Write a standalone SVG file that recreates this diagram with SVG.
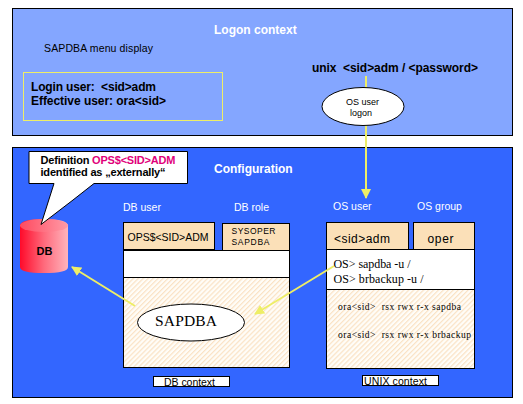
<svg xmlns="http://www.w3.org/2000/svg" width="523" height="404" viewBox="0 0 523 404">
<style>
text{font-family:"Liberation Sans",Arial,sans-serif;fill:#000}
.b{font-weight:bold}
.w{fill:#fff}
.s{font-family:"Liberation Serif","Times New Roman",serif}
.box{stroke:#000;stroke-width:1}
.cell{fill:#fbe0b8;stroke:#000;stroke-width:1}
.conn{stroke:#eeee66;stroke-width:2;fill:none}
</style>
<defs>
<pattern id="hatch" width="3.500" height="3.500" patternUnits="userSpaceOnUse" patternTransform="rotate(-45)">
<rect width="3.500" height="3.500" fill="#fffdf8"/><rect width="3.500" height="1.200" fill="#fae2c4"/>
</pattern>
<linearGradient id="cyl" x1="0" x2="1" y1="0" y2="0"><stop offset="0" stop-color="#ff0a2a"/><stop offset=".5" stop-color="#ff6a7c"/><stop offset="1" stop-color="#ffb4bc"/></linearGradient>
<linearGradient id="cyltop" x1="0" x2="1" y1="0" y2="0"><stop offset="0" stop-color="#ff4a60"/><stop offset="1" stop-color="#ff9aa6"/></linearGradient>
<marker id="arr" viewBox="0 0 10 10" refX="9" refY="5" markerWidth="10" markerHeight="10" markerUnits="userSpaceOnUse" orient="auto"><path d="M0 0L10 5L0 10z" fill="#eeee66"/></marker>
</defs>
<rect width="523" height="404" fill="#fff"/>
<g id="logon-context">
<rect class="box" x="12.500" y="8.500" width="500" height="127" fill="#84a6ff"/>
<text class="b w" x="214" y="34" font-size="12">Logon context</text>
<text x="44" y="52" font-size="10.500" textLength="109">SAPDBA menu display</text>
<rect x="23.500" y="72.500" width="199" height="48" fill="none" stroke="#eeee66"/>
<text class="b" x="31" y="91" font-size="12" textLength="125" xml:space="preserve">Login user:  &lt;sid&gt;adm</text>
<text class="b" x="31" y="105" font-size="12" textLength="135">Effective user: ora&lt;sid&gt;</text>
<text class="b" x="312" y="72" font-size="12" textLength="166" xml:space="preserve">unix  &lt;sid&gt;adm / &lt;password&gt;</text>
</g>
<g id="configuration">
<rect class="box" x="12.500" y="147.500" width="500" height="250" fill="#3366ff"/>
<text class="b w" x="214" y="173" font-size="12">Configuration</text>
<text class="w" x="123" y="211" font-size="10.500">DB user</text>
<text class="w" x="234" y="211" font-size="10.500">DB role</text>
<text class="w" x="333" y="210" font-size="10.500">OS user</text>
<text class="w" x="417" y="210" font-size="10.500">OS group</text>
</g>
<g id="db-user">
<rect class="box" x="123.500" y="250.500" width="166" height="117" fill="url(#hatch)"/>
<rect class="box" x="123.500" y="250.500" width="166" height="27" fill="#fff"/>
<rect class="cell" x="123.500" y="222.500" width="91" height="27"/>
<text x="127.500" y="241" font-size="10.500" textLength="81">OPS$&lt;SID&gt;ADM</text>
<rect class="cell" x="222.500" y="223.500" width="67" height="27"/>
<text x="231.500" y="234" font-size="8.500" textLength="44">SYSOPER</text>
<text x="231.500" y="245" font-size="8.500" textLength="38">SAPDBA</text>
</g>
<g id="os-user">
<rect class="box" x="326.500" y="249.500" width="148" height="119" fill="url(#hatch)"/>
<rect class="box" x="326.500" y="249.500" width="148" height="40" fill="#fff"/>
<rect class="cell" x="326.500" y="222.500" width="82" height="27"/>
<text x="334" y="243" font-size="12" textLength="56">&lt;sid&gt;adm</text>
<rect class="cell" x="413.500" y="222.500" width="61" height="27"/>
<text x="427.500" y="243" font-size="12" textLength="26">oper</text>
<text class="s" x="333.500" y="268" font-size="12" textLength="77">OS&gt; sapdba -u /</text>
<text class="s" x="333.500" y="283" font-size="12" textLength="90">OS&gt; brbackup -u /</text>
<text class="s" x="338" y="310" font-size="9.500" textLength="123" xml:space="preserve">ora&lt;sid&gt;  rsx rwx r-x sapdba</text>
<text class="s" x="338" y="338" font-size="9.500" textLength="133" xml:space="preserve">ora&lt;sid&gt;  rsx rwx r-x brbackup</text>
</g>
<g id="connectors">
<line class="conn" x1="366" y1="76" x2="366" y2="198" marker-end="url(#arr)"/>
<line class="conn" x1="135" y1="306" x2="72" y2="267" marker-end="url(#arr)"/>
<line class="conn" x1="334" y1="266" x2="255" y2="314" marker-end="url(#arr)"/>
</g>
<g id="sapdba">
<ellipse class="box" cx="191" cy="322.500" rx="53.500" ry="18.500" fill="#fff"/>
<text class="s" x="155" y="326" font-size="15.500" textLength="62">SAPDBA</text>
</g>
<g id="os-logon">
<ellipse class="box" cx="363" cy="106.500" rx="41" ry="19" fill="#fff"/>
<text x="346" y="105" font-size="9" textLength="33">OS user</text>
<text x="350" y="116" font-size="9" textLength="22">logon</text>
</g>
<g id="db">
<path d="M20 226Q20 219 44 219Q68 219 68 226V267Q68 273 44 273Q20 273 20 267Z" fill="url(#cyl)"/>
<ellipse cx="44" cy="225.500" rx="24" ry="6.500" fill="url(#cyltop)"/>
<text class="b" x="36.500" y="255" font-size="11">DB</text>
</g>
<g id="callout">
<path d="M29 151.500H187.500V183.500H94L73 200L41 224.500L54 183.500H29Z" fill="#fff" stroke="#000"/>
<text class="b" x="40.500" y="164" font-size="11" textLength="135">Definition <tspan fill="#e0007a">OPS$&lt;SID&gt;ADM</tspan></text>
<text class="b" x="40.500" y="176" font-size="11" textLength="125">identified as „externally“</text>
</g>
<g id="db-context">
<rect class="box" x="153.500" y="376.500" width="76" height="10" fill="#fff"/>
<text x="164" y="385.500" font-size="10.500" textLength="51">DB context</text>
</g>
<g id="unix-context">
<rect class="box" x="362.500" y="375.500" width="76" height="10" fill="#fff"/>
<text x="364" y="384.500" font-size="10.500" textLength="63">UNIX context</text>
</g>
</svg>
